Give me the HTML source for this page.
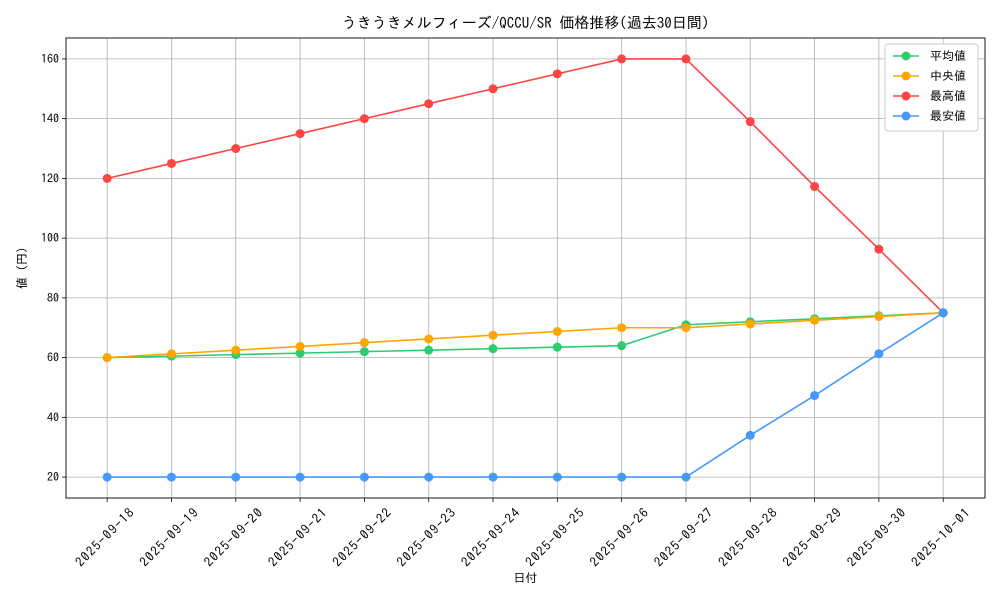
<!DOCTYPE html>
<html><head><meta charset="utf-8">
<style>
body{margin:0;background:#fff;}
svg{display:block;font-family:"IPAGothic","Liberation Sans","Noto Sans CJK JP",sans-serif;}
</style></head>
<body>
<svg id="chart" width="1000" height="600"></svg>
<script>
const categories=["2025-09-18","2025-09-19","2025-09-20","2025-09-21","2025-09-22","2025-09-23","2025-09-24","2025-09-25","2025-09-26","2025-09-27","2025-09-28","2025-09-29","2025-09-30","2025-10-01"];
const meanValues=[60,60.5,61,61.5,62,62.5,63,63.5,64,71,72,73,74,75];
const medianValues=[60,61.25,62.5,63.75,65,66.25,67.5,68.75,70,70,71.25,72.5,73.75,75];
const maxValues=[120,125,130,135,140,145,150,155,160,160,139,117.3,96.3,75];
const minValues=[20,20,20,20,20,20,20,20,20,20,34,47.3,61.3,75];
const yTicks=[20,40,60,80,100,120,140,160];
const seriesNames=["平均値","中央値","最高値","最安値"];
const seriesColors=["#2ecc71","#ffa500","#ff4444","#4499ff"];

const L=66,R=985,T=38,B=498;
const xMin=-0.64,xMax=categories.length-1+0.65,yMin=13,yMax=167;
const xs=i=>L+(i-xMin)/(xMax-xMin)*(R-L);
const ys=v=>B-(v-yMin)/(yMax-yMin)*(B-T);
const NS="http://www.w3.org/2000/svg";
const svg=document.getElementById('chart');
function mk(tag,attrs,parent){const e=document.createElementNS(NS,tag);for(const k in attrs)e.setAttribute(k,attrs[k]);(parent||svg).appendChild(e);return e;}

yTicks.forEach(v=>{
  const g=mk('line',{x1:L,x2:R,y1:ys(v),y2:ys(v),stroke:'#b0b0b0','stroke-width':0.8});
  
  
  mk('line',{x1:L-4,x2:L,y1:ys(v),y2:ys(v),stroke:'#000','stroke-width':0.8});
  const t=mk('text',{x:L-7,y:ys(v)+4,'text-anchor':'end','font-size':12});
  t.textContent=v;
  
  
});
categories.forEach((c,i)=>{
  const g=mk('line',{x1:xs(i),x2:xs(i),y1:T,y2:B,stroke:'#b0b0b0','stroke-width':0.8});
  
  
  mk('line',{x1:xs(i),x2:xs(i),y1:B,y2:B+4,stroke:'#000','stroke-width':0.8});
  const cx=xs(i)-2.5, cy=B+39.5;
  const t=mk('text',{x:cx,y:cy+4.5,'text-anchor':'middle','font-size':13,textLength:76,lengthAdjust:'spacing',transform:`rotate(-45 ${cx} ${cy})`});
  t.textContent=c;
  
  
});
const allSeries=[meanValues,medianValues,maxValues,minValues];
[2,0,1,3].forEach(si=>{
  const vals=allSeries[si];
  const p=mk('polyline',{points:vals.map((v,i)=>xs(i)+','+ys(v)).join(' '),fill:'none',stroke:seriesColors[si],'stroke-width':1.6});
  
  
  vals.forEach((v,i)=>{
    const c=mk('circle',{cx:xs(i),cy:ys(v),r:4.5,fill:seriesColors[si]});
    
    
  });
});
const fr=mk('rect',{x:L,y:T,width:R-L,height:B-T,fill:'none',stroke:'#000','stroke-width':0.9});


const ti=mk('text',{x:(L+R)/2,y:28,'text-anchor':'middle','font-size':15});
ti.textContent='うきうきメルフィーズ/QCCU/SR 価格推移(過去30日間)';


const xt=mk('text',{x:(L+R)/2,y:582,'text-anchor':'middle','font-size':12});
xt.textContent='日付';


const yt=mk('text',{x:26,y:(T+B)/2,'text-anchor':'middle','font-size':12,transform:`rotate(-90 26 ${(T+B)/2})`});
yt.textContent='値 (円)';


const lg=mk('rect',{x:885,y:44,width:93,height:87,fill:'#fff',stroke:'#ccc',rx:3});


seriesNames.forEach((n,i)=>{
  const y=56+i*20;
  mk('line',{x1:893,x2:919,y1:y,y2:y,stroke:seriesColors[i],'stroke-width':1.6});
  mk('circle',{cx:906,cy:y,r:4.5,fill:seriesColors[i]});
  const t=mk('text',{x:930,y:y+4,'font-size':12});
  t.textContent=n;
  
  
});
</script>
</body></html>
